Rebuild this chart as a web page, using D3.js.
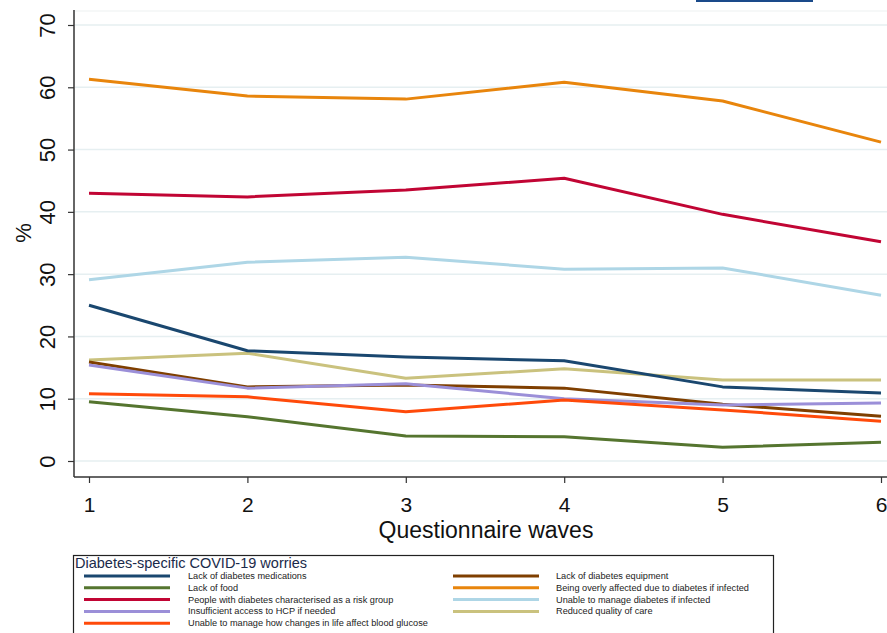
<!DOCTYPE html>
<html><head><meta charset="utf-8">
<script src="https://cdn.jsdelivr.net/npm/d3@7"></script>
<style>body{margin:0;background:#fff;}svg{display:block;font-family:Arial,"Liberation Sans",sans-serif;}</style>
</head><body><svg id="c" width="887" height="633"></svg>
<script>
const waves = [1,2,3,4,5,6];
const yTicks = [0,10,20,30,40,50,60,70];
const seriesNames = [
  "Lack of diabetes medications",
  "Lack of food",
  "People with diabetes characterised as a risk group",
  "Insufficient access to HCP if needed",
  "Unable to manage how changes in life affect blood glucose",
  "Lack of diabetes equipment",
  "Being overly affected due to diabetes if infected",
  "Unable to manage diabetes if infected",
  "Reduced quality of care"
];
const medications = [25.0,17.7,16.7,16.1,11.9,10.9];
const food = [9.5,7.1,4.0,3.9,2.2,3.0];
const riskGroup = [43.0,42.4,43.5,45.4,39.6,35.2];
const hcp = [15.4,11.7,12.4,10.0,9.0,9.3];
const bloodGlucose = [10.8,10.3,7.9,9.8,8.2,6.4];
const equipment = [15.9,11.9,12.2,11.7,9.1,7.2];
const overlyAffected = [61.3,58.6,58.1,60.8,57.8,51.2];
const unableManage = [29.1,31.9,32.7,30.8,31.0,26.6];
const qualityCare = [16.2,17.3,13.3,14.8,13.0,13.0];
const seriesValues = [medications,food,riskGroup,hcp,bloodGlucose,equipment,overlyAffected,unableManage,qualityCare];
const colors = ["#1a476f","#55752f","#c10534","#9b8fd8","#ff4a0a","#7f3f00","#e8850c","#aed6e6","#cac27e"];
const drawOrder = [6,2,7,8,0,5,3,4,1];

const svg = d3.select("#c");
const x = d3.scaleLinear().domain([1,6]).range([89,881]);
const y = d3.scaleLinear().domain([0,70]).range([461,25]);

svg.append("rect").attr("x",696).attr("y",0).attr("width",117).attr("height",2).attr("fill","#1a4a8a");

// gridlines
svg.append("g").selectAll("line").data(yTicks).join("line")
  .attr("x1",75).attr("x2",887).attr("y1",d=>y(d)).attr("y2",d=>y(d))
  .attr("stroke","#e6eff1").attr("stroke-width",1.5);
svg.append("line").attr("x1",75).attr("x2",887).attr("y1",11).attr("y2",11)
  .attr("stroke","#f3f6f6").attr("stroke-width",1.5);

// y axis
const ya = svg.append("g").attr("transform","translate(74,0)")
  .call(d3.axisLeft(y).tickValues(yTicks).tickSize(6).tickSizeOuter(0));
ya.select(".domain").remove();
ya.selectAll(".tick line").attr("stroke","#333").attr("stroke-width",1.2);
ya.selectAll(".tick text").attr("font-size",22).attr("fill","#111")
  .attr("x",0).attr("y",0).attr("dy",0).attr("text-anchor","middle")
  .attr("transform","translate(-19,0) rotate(-90)");
svg.append("line").attr("x1",74).attr("x2",74).attr("y1",10).attr("y2",477).attr("stroke","#333").attr("stroke-width",1.5);

// x axis
const xa = svg.append("g").attr("transform","translate(0,477)")
  .call(d3.axisBottom(x).tickValues(waves).tickFormat(d3.format("d")).tickSize(6).tickSizeOuter(0));
xa.select(".domain").remove();
xa.selectAll(".tick line").attr("stroke","#333").attr("stroke-width",1.2);
xa.selectAll(".tick text").attr("font-size",21).attr("fill","#111").attr("y",35).attr("dy",0);
svg.append("line").attr("x1",74).attr("x2",887).attr("y1",477).attr("y2",477).attr("stroke","#333").attr("stroke-width",1.5);

// axis titles
svg.append("text").attr("transform","translate(31,233) rotate(-90)").attr("text-anchor","middle")
  .attr("font-size",22).attr("fill","#111").text("%");
svg.append("text").attr("x",486).attr("y",538).attr("text-anchor","middle")
  .attr("font-size",23).attr("fill","#111").text("Questionnaire waves");

// lines
const line = d3.line().x((d,i)=>x(waves[i])).y(d=>y(d));
svg.append("g").selectAll("path").data(drawOrder).join("path")
  .attr("d",i=>line(seriesValues[i])).attr("fill","none")
  .attr("stroke",i=>colors[i]).attr("stroke-width",3).attr("stroke-linejoin","round");

// legend
const lg = svg.append("g");
lg.append("rect").attr("x",73.5).attr("y",555.5).attr("width",700).attr("height",90)
  .attr("fill","#fff").attr("stroke","#222").attr("stroke-width",1.2);
lg.append("text").attr("x",75).attr("y",568).attr("font-size",14.5).attr("fill","#1a2a4a")
  .text("Diabetes-specific COVID-19 worries");
const items = seriesNames.map((n,i)=>({n,i,col:i<5?0:1,row:i<5?i:i-5}));
const rowY = r=>576+r*11.8;
const gi = lg.selectAll("g.it").data(items).join("g").attr("class","it");
gi.append("line").attr("x1",d=>d.col?453:84).attr("x2",d=>d.col?539:170)
  .attr("y1",d=>rowY(d.row)).attr("y2",d=>rowY(d.row))
  .attr("stroke",d=>colors[d.i]).attr("stroke-width",3);
gi.append("text").attr("x",d=>d.col?556:188).attr("y",d=>rowY(d.row)+3)
  .attr("font-size",9.2).attr("fill","#222").text(d=>d.n);
</script></body></html>
